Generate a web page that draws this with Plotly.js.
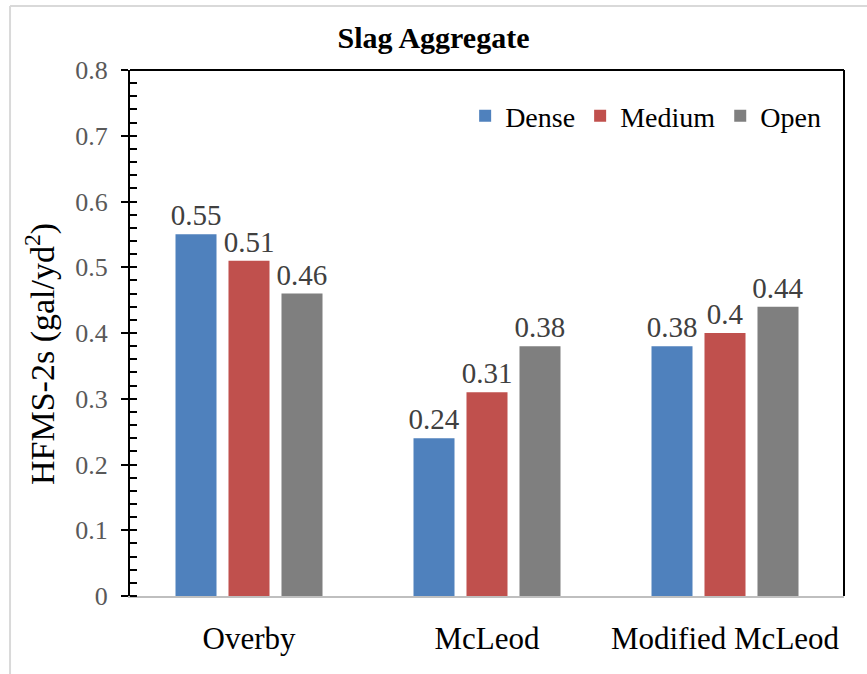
<!DOCTYPE html>
<html>
<head>
<meta charset="utf-8">
<script src="https://cdn.plot.ly/plotly-3.0.1.min.js"></script>
<style>
  html, body { margin: 0; padding: 0; background: #fff; font-family: 'Liberation Serif', serif; }
  #chart { width: 867px; height: 674px; }
  #chart text, #chart tspan { font-family: 'Liberation Serif', serif !important; }
  .modebar-container { display: none !important; }
</style>
</head>
<body>
<div id="chart"></div>
<script>
const categories = ["Overby", "McLeod", "Modified McLeod"];
const seriesNames = ["Dense", "Medium", "Open"];
const dense = [0.55, 0.24, 0.38];
const medium = [0.51, 0.31, 0.40];
const open = [0.46, 0.38, 0.44];
const yTickVals = [0, 0.1, 0.2, 0.3, 0.4, 0.5, 0.6, 0.7, 0.8];
const yTickText = ["0", "0.1", "0.2", "0.3", "0.4", "0.5", "0.6", "0.7", "0.8"];

const colors = ["#4F81BD", "#C0504D", "#7F7F7F"];
const serif = "Liberation Serif";

function barTrace(name, vals, color) {
  return {
    type: "bar",
    name: name,
    x: categories,
    y: vals,
    marker: { color: color },
    text: vals.map(v => String(v)),
    textposition: "outside",
    constraintext: "none",
    cliponaxis: false,
    textfont: { family: serif, size: 29, color: "#404040" }
  };
}

const data = [
  barTrace(seriesNames[0], dense, colors[0]),
  barTrace(seriesNames[1], medium, colors[1]),
  barTrace(seriesNames[2], open, colors[2])
];

const layout = {
  width: 867,
  height: 674,
  margin: { l: 130, r: 23, t: 70, b: 78 },
  paper_bgcolor: "#ffffff",
  plot_bgcolor: "#ffffff",
  title: {
    text: "<b>Slag Aggregate</b>",
    font: { family: serif, size: 30, color: "#000000" },
    x: 0.5, xanchor: "center",
    y: 1 - 37 / 674, yanchor: "middle"
  },
  barmode: "group",
  bargap: 0.332,
  bargroupgap: 0.226,
  showlegend: true,
  legend: {
    orientation: "h",
    x: 0.975, xanchor: "right",
    y: 0.9125, yanchor: "middle",
    font: { family: serif, size: 28, color: "#000000" },
    bgcolor: "rgba(0,0,0,0)",
    traceorder: "normal"
  },
  xaxis: {
    type: "category",
    showline: true,
    linecolor: "#BFBFBF",
    linewidth: 2,
    ticks: "",
    showgrid: false,
    zeroline: false,
    tickfont: { family: serif, size: 31, color: "#000000" },
    ticklabelstandoff: 14
  },
  yaxis: {
    range: [0, 0.8],
    tickmode: "array",
    tickvals: yTickVals,
    ticktext: yTickText,
    showline: true,
    linecolor: "#000000",
    linewidth: 2,
    ticks: "outside",
    ticklen: 7,
    tickwidth: 2,
    tickcolor: "#000000",
    minor: { ticks: "inside", dtick: 0.02, tick0: 0, ticklen: 7, tickwidth: 2, tickcolor: "#000000", showgrid: false },
    showgrid: false,
    zeroline: false,
    tickfont: { family: serif, size: 26, color: "#595959" },
    ticklabelstandoff: 8
  },
  annotations: [
    { text: "HFMS-2s (gal/yd<sup>2</sup>)", xref: "paper", yref: "paper",
      x: (40 - 130) / 714, y: (596 - 354) / 526, xanchor: "center", yanchor: "middle",
      textangle: -90, showarrow: false,
      font: { family: serif, size: 34, color: "#000000" } }
  ],
  shapes: [
    { type: "line", xref: "paper", yref: "paper", x0: 0, x1: 1, y0: 1, y1: 1,
      line: { color: "#000000", width: 2 }, layer: "above" },
    { type: "line", xref: "paper", yref: "paper", x0: 1, x1: 1, y0: 0, y1: 1,
      line: { color: "#000000", width: 2 }, layer: "above" },
    { type: "line", xref: "paper", yref: "paper", x0: -0.168, x1: -0.168, y0: -0.2, y1: 1.1217,
      line: { color: "#D9D9D9", width: 2 }, layer: "above" },
    { type: "line", xref: "paper", yref: "paper", x0: -0.168, x1: 1.1, y0: 1.1217, y1: 1.1217,
      line: { color: "#D9D9D9", width: 2 }, layer: "above" }
  ]
};

function draw() { return Plotly.newPlot("chart", data, layout); }
if (document.fonts && document.fonts.load) {
  document.fonts.load("30px 'Liberation Serif'").then(draw, draw);
} else {
  draw();
}
</script>
</body>
</html>
